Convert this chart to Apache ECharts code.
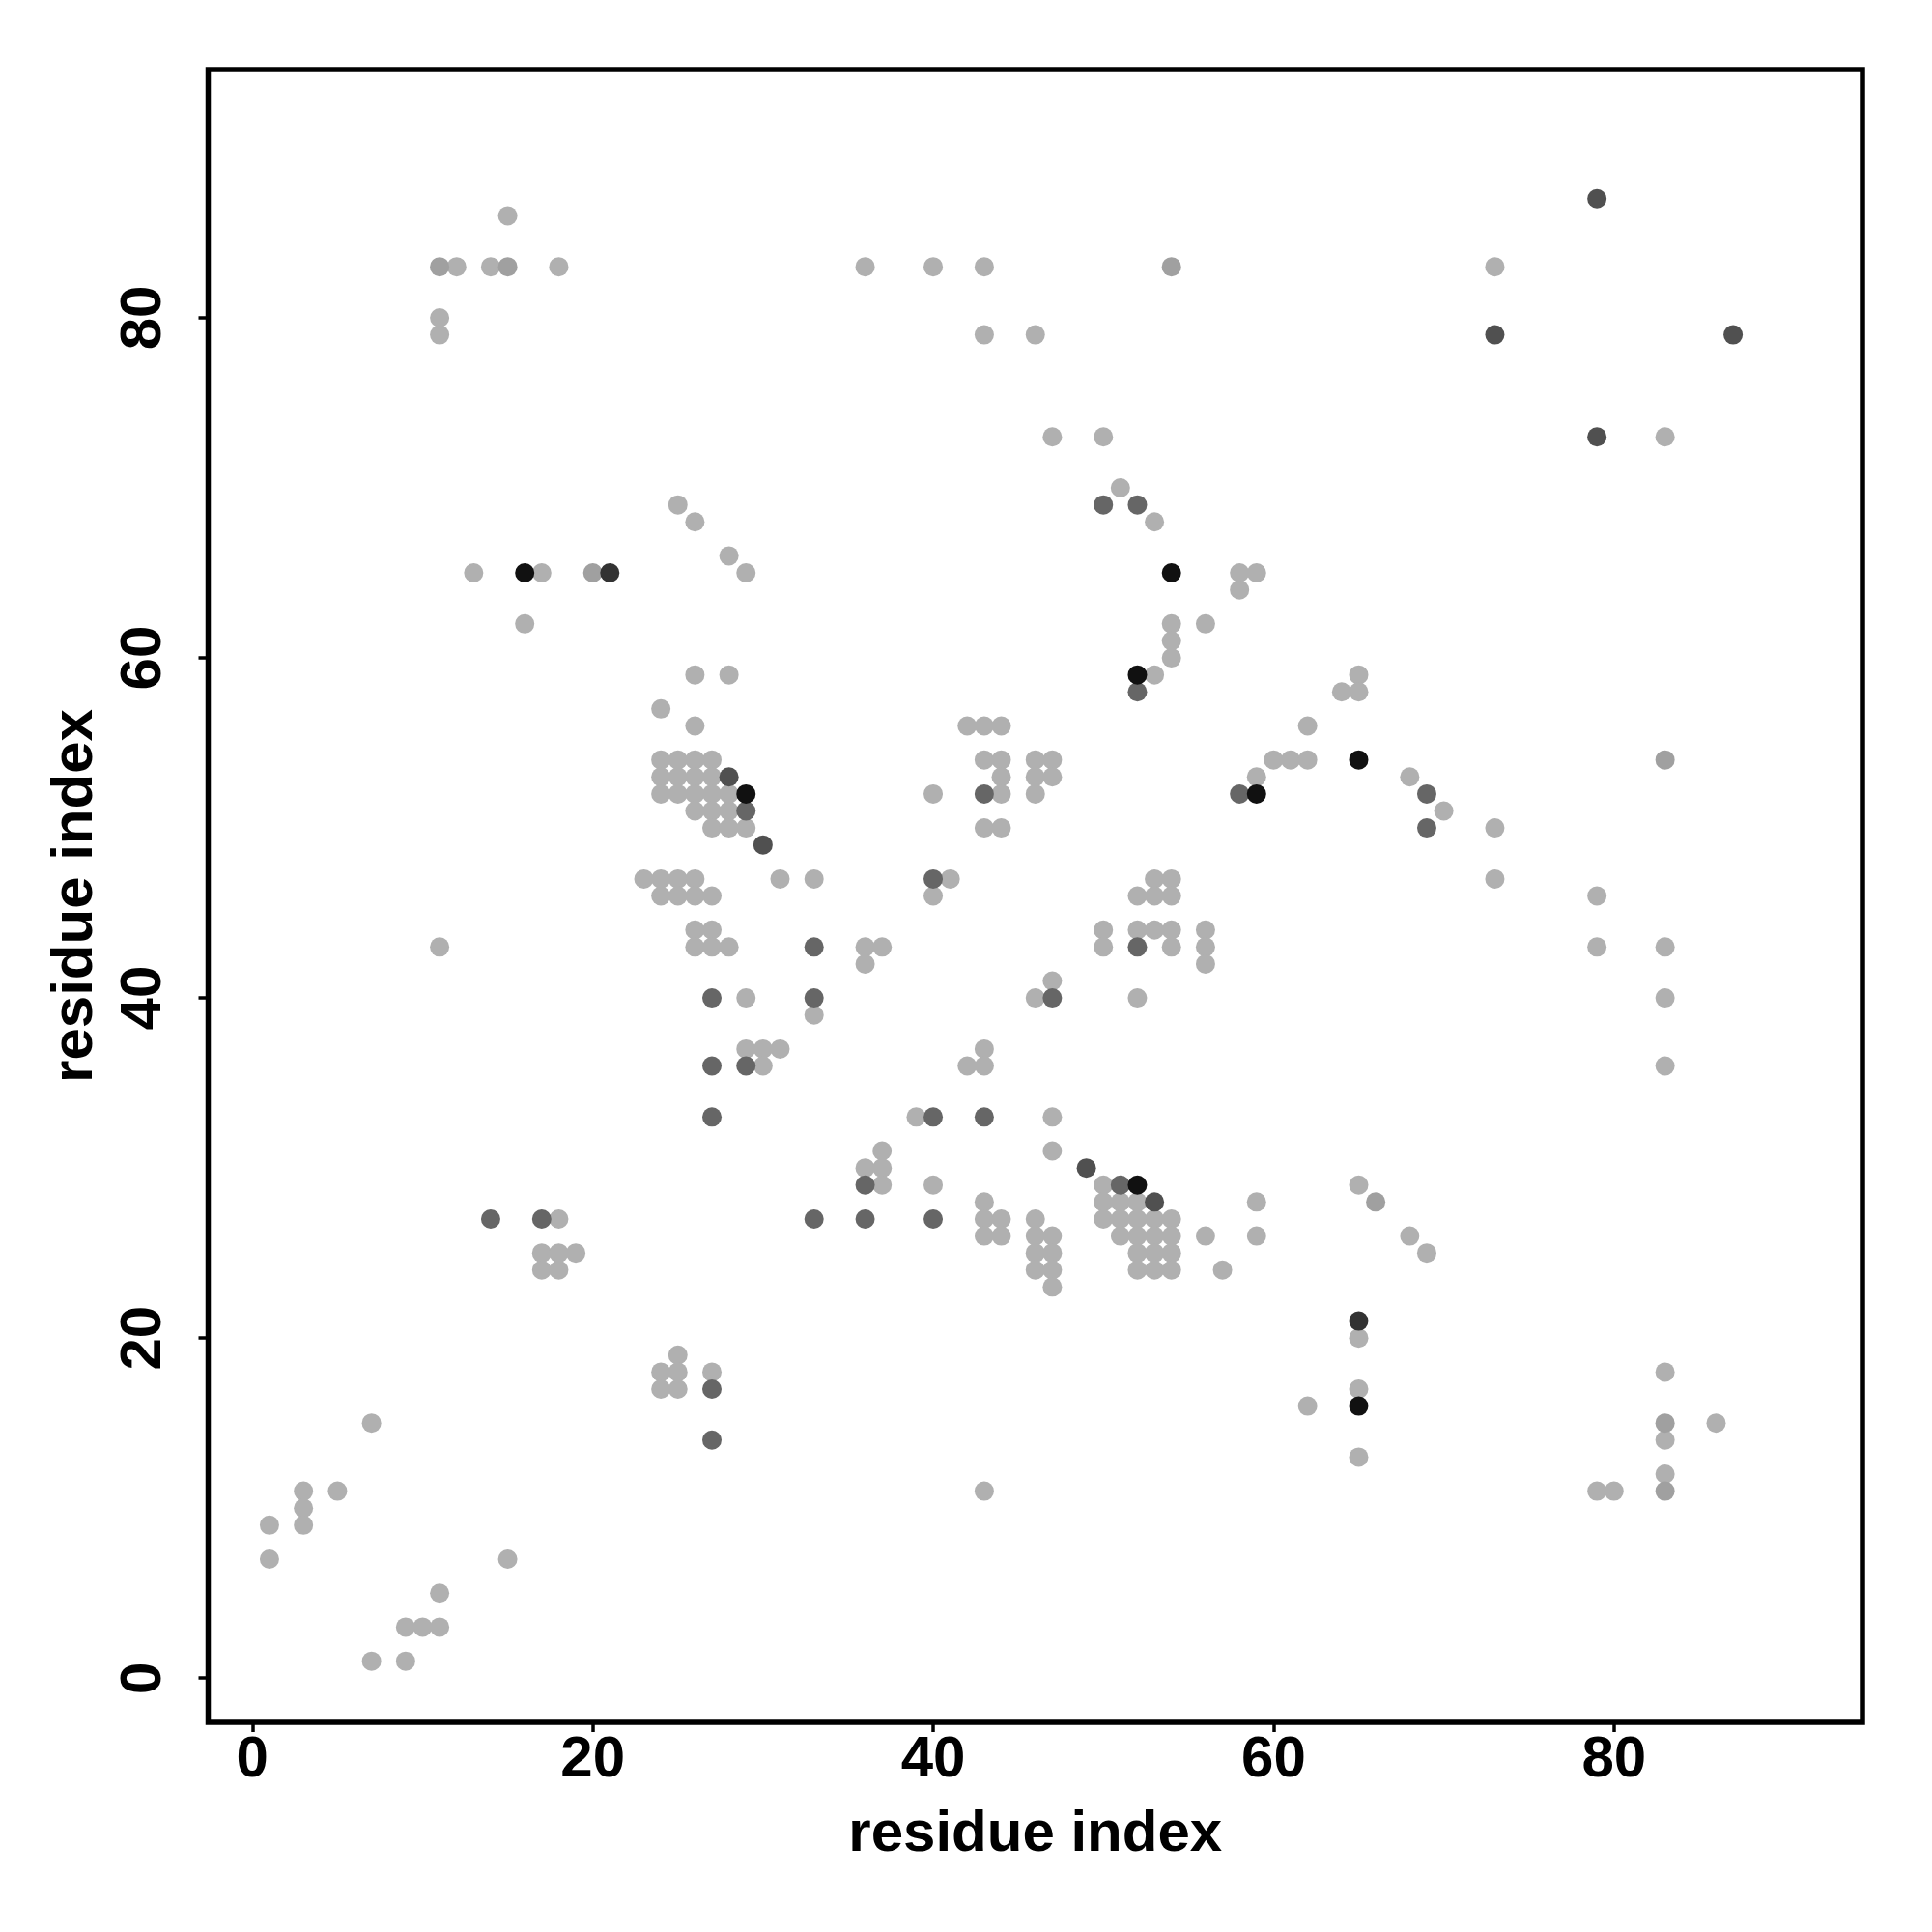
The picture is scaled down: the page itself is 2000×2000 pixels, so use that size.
<!DOCTYPE html>
<html>
<head>
<meta charset="utf-8">
<script src="https://cdn.jsdelivr.net/npm/echarts@6/dist/echarts.min.js"></script>
<style>
html,body{margin:0;padding:0;background:#fff;}
#chart{width:2000px;height:2000px;}
</style>
</head>
<body>
<div id="chart"></div>
<script>
// Contact points [residue x, residue y], grouped by grey level
const lightPts = [
  [15,86],
  [12,83],[14,83],[18,83],[36,83],[40,83],[43,83],[73,83],
  [11,80],
  [11,79],[43,79],[46,79],
  [47,73],[50,73],[83,73],
  [51,70],
  [25,69],
  [26,68],[53,68],
  [28,66],
  [13,65],[17,65],[29,65],[58,65],[59,65],
  [58,64],
  [16,62],[54,62],[56,62],
  [54,61],
  [54,60],
  [26,59],[28,59],[53,59],[65,59],
  [64,58],[65,58],
  [24,57],
  [26,56],[42,56],[43,56],[44,56],[62,56],
  [24,54],[25,54],[26,54],[27,54],[43,54],[44,54],[46,54],[47,54],[60,54],[61,54],[62,54],
  [24,53],[25,53],[26,53],[27,53],[44,53],[46,53],[47,53],[59,53],[68,53],
  [24,52],[25,52],[26,52],[27,52],[28,52],[40,52],[44,52],[46,52],
  [26,51],[27,51],[28,51],[70,51],
  [27,50],[28,50],[29,50],[43,50],[44,50],[73,50],
  [23,47],[24,47],[25,47],[26,47],[31,47],[33,47],[41,47],[53,47],[54,47],[73,47],
  [24,46],[25,46],[26,46],[27,46],[40,46],[52,46],[53,46],[54,46],[79,46],
  [26,44],[27,44],[50,44],[52,44],[53,44],[54,44],[56,44],
  [11,43],[26,43],[27,43],[28,43],[36,43],[37,43],[50,43],[54,43],[56,43],[79,43],[83,43],
  [36,42],[56,42],
  [47,41],
  [29,40],[46,40],[52,40],[83,40],
  [33,39],
  [29,37],[30,37],[31,37],[43,37],
  [30,36],[42,36],[43,36],[83,36],
  [39,33],[47,33],
  [37,31],[47,31],
  [36,30],[37,30],
  [37,29],[40,29],[50,29],[65,29],
  [43,28],[50,28],[51,28],[52,28],[59,28],
  [18,27],[43,27],[44,27],[46,27],[50,27],[51,27],[52,27],[53,27],[54,27],
  [43,26],[44,26],[46,26],[47,26],[51,26],[52,26],[53,26],[54,26],[56,26],[59,26],[68,26],
  [17,25],[18,25],[19,25],[46,25],[47,25],[52,25],[53,25],[54,25],[69,25],
  [17,24],[18,24],[46,24],[47,24],[52,24],[53,24],[54,24],[57,24],
  [47,23],
  [65,20],
  [25,19],
  [24,18],[25,18],[27,18],[83,18],
  [24,17],[25,17],[65,17],
  [62,16],
  [7,15],[86,15],
  [83,14],
  [65,13],
  [83,12],
  [3,11],[5,11],[43,11],[79,11],[80,11],
  [3,10],
  [1,9],[3,9],
  [1,7],[15,7],
  [11,5],
  [9,3],[10,3],[11,3],
  [7,1],[9,1]
];
const midPts = [[11,83],[15,83],[54,83],[83,54],[83,15],[83,11],[20,65],[66,28]];
const darkPts = [
  [50,69],[52,69],[52,58],[29,51],[43,52],[58,52],[69,52],[69,50],[40,47],
  [27,40],[33,43],[33,40],[52,43],[47,40],[27,36],[29,36],[27,33],[40,33],[43,33],
  [36,29],[51,29],[14,27],[17,27],[33,27],[36,27],[40,27],[27,17],[27,14]
];
const darkerPts = [[79,87],[87,79],[28,53],[53,28],[73,79],[79,73],[30,49],[49,30]];
const veryDarkPts = [[21,65],[65,21]];
const blackPts = [[16,65],[54,65],[52,59],[29,52],[59,52],[65,54],[52,29],[65,16]];

const tickValues = [0, 20, 40, 60, 80];
const axisTitle = 'residue index';

const groups = [
  {data: lightPts, color: '#b0b0b0'},
  {data: midPts, color: '#a0a0a0'},
  {data: darkPts, color: '#666666'},
  {data: darkerPts, color: '#505050'},
  {data: veryDarkPts, color: '#333333'},
  {data: blackPts, color: '#111111'}
];

const font = "'Liberation Sans', Arial, Helvetica, sans-serif";

function makeAxis(isY) {
  return {
    type: 'value',
    min: -2.6,
    max: 94.6,
    name: axisTitle,
    nameLocation: 'middle',
    nameGap: isY ? 107 : 86,
    nameTextStyle: {fontSize: 60, fontWeight: 'bold', color: '#000', fontFamily: font},
    axisLine: {show: false, onZero: false},
    splitLine: {show: false},
    axisTick: {show: true, length: 10, inside: false, customValues: tickValues,
               lineStyle: {color: '#000', width: 3.5}},
    axisLabel: {show: true, customValues: tickValues, margin: isY ? 36 : 9,
                rotate: isY ? 90 : 0,
                fontSize: 60, fontWeight: 'bold', color: '#000', fontFamily: font}
  };
}

const chart = echarts.init(document.getElementById('chart'), null, {renderer: 'canvas'});
chart.setOption({
  backgroundColor: '#ffffff',
  animation: false,
  grid: {left: 215.5, top: 72, width: 1712.5, height: 1711, show: true,
         borderColor: '#000', borderWidth: 5.5, backgroundColor: 'transparent'},
  xAxis: makeAxis(false),
  yAxis: makeAxis(true),
  series: groups.map(g => ({
    type: 'scatter',
    data: g.data,
    symbol: 'circle',
    symbolSize: 20,
    itemStyle: {color: g.color, opacity: 1},
    emphasis: {disabled: true},
    silent: true
  }))
});
</script>
</body>
</html>
